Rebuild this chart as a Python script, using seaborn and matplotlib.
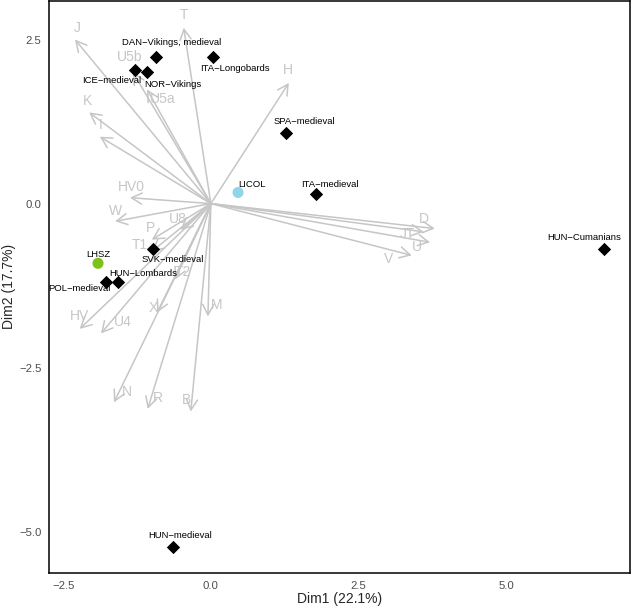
import numpy as np
import pandas as pd
import matplotlib
matplotlib.use("Agg")
import matplotlib.pyplot as plt
import seaborn as sns

# populations (individuals) - coordinates
pop_names = ['DAN\u2212Vikings, medieval', 'ITA\u2212Longobards', 'ICE\u2212medieval', 'NOR\u2212Vikings',
             'SPA\u2212medieval', 'ITA\u2212medieval', 'HUN\u2212Cumanians', 'SVK\u2212medieval',
             'HUN\u2212Lombards', 'POL\u2212medieval', 'HUN\u2212medieval']
pop_x = [-0.93, 0.03, -1.29, -1.08, 1.27, 1.78, 6.65, -0.98, -1.57, -1.78, -0.64]
pop_y = [2.24, 2.23, 2.03, 2.00, 1.08, 0.14, -0.69, -0.69, -1.19, -1.19, -5.23]
pop_lab_x = [-0.66, 0.41, -1.68, -0.64, 1.59, 2.01, 6.31, -0.64, -1.15, -2.22, -0.52]
pop_lab_y = [2.45, 2.06, 1.88, 1.81, 1.25, 0.29, -0.52, -0.85, -1.07, -1.30, -5.06]

# the two study groups
grp_names = ['LICOL', 'LHSZ']
grp_x = [0.46, -1.91]
grp_y = [0.17, -0.91]
grp_lab_x = [0.69, -1.91]
grp_lab_y = [0.29, -0.78]

# haplogroup loadings (arrow tips) and their label positions
hg_names = ['J', 'T', 'H', 'U5b', 'U5a', 'K', 'I', 'HV0', 'W', 'P', 'U8', 'T1', 'T2', 'X',
            'M', 'HV', 'U4', 'N', 'R', 'B', 'D', 'JT', 'U', 'V']
hg_x = [-2.30, -0.46, 1.32, -1.32, -1.08, -2.06, -1.88, -1.37, -1.62, -1.00, -0.51, -1.00,
        -0.61, -0.91, -0.05, -2.22, -1.86, -1.64, -1.07, -0.34, 3.79, 3.60, 3.71, 3.40]
hg_y = [2.50, 2.68, 1.84, 2.00, 1.74, 1.39, 1.02, 0.09, -0.27, -0.55, -0.40, -0.73,
        -1.16, -1.66, -1.72, -1.91, -1.98, -3.03, -3.13, -3.17, -0.38, -0.43, -0.59, -0.79]
hg_lab_x = [-2.27, -0.46, 1.30, -1.37, -0.81, -2.08, -1.86, -1.35, -1.61, -1.03, -0.56, -1.20,
            -0.47, -0.98, 0.10, -2.22, -1.49, -1.42, -0.90, -0.42, 3.60, 3.33, 3.49, 3.01]
hg_lab_y = [2.68, 2.88, 2.03, 2.24, 1.59, 1.57, 1.20, 0.26, -0.11, -0.37, -0.24, -0.63,
            -1.04, -1.59, -1.55, -1.72, -1.81, -2.87, -2.96, -3.00, -0.23, -0.47, -0.66, -0.84]

pops = pd.DataFrame({'name': pop_names, 'x': pop_x, 'y': pop_y})
grps = pd.DataFrame({'name': grp_names, 'x': grp_x, 'y': grp_y})

sns.set_style("white")
plt.rcParams['font.family'] = ['Liberation Sans', 'DejaVu Sans']

fig = plt.figure(figsize=(6.32, 6.08), dpi=100)
ax = fig.add_axes([0.0775, 0.0576, 0.919, 0.941])

arrow_col = '#C6C6C6'
for name, x, y, lx, ly in zip(hg_names, hg_x, hg_y, hg_lab_x, hg_lab_y):
    ax.annotate('', xy=(x, y), xytext=(0, 0),
                arrowprops=dict(arrowstyle='->,head_length=0.75,head_width=0.4',
                                color=arrow_col, lw=1.1, shrinkA=0, shrinkB=0),
                zorder=1)
    ax.text(lx, ly, name, color=arrow_col, fontsize=10, ha='center', va='center', zorder=1)

sns.scatterplot(data=pops, x='x', y='y', marker='D', color='black', s=46,
                edgecolor='black', linewidth=0, ax=ax, zorder=3)
sns.scatterplot(data=grps, x='x', y='y', hue='name', palette={'LICOL': '#8FD6EA', 'LHSZ': '#7DC21B'},
                s=64, edgecolor='none', linewidth=0, legend=False, ax=ax, zorder=3)

for name, lx, ly in zip(pop_names, pop_lab_x, pop_lab_y):
    ax.text(lx, ly, name, fontsize=6.8, ha='center', va='center', color='black', zorder=4)
for name, lx, ly in zip(grp_names, grp_lab_x, grp_lab_y):
    ax.text(lx, ly, name, fontsize=6.8, ha='center', va='center', color='black', zorder=4)

ax.set_xlim(-2.74, 7.09)
ax.set_ylim(-5.63, 3.09)
ax.set_xticks([-2.5, 0.0, 2.5, 5.0])
ax.set_xticklabels(['\u22122.5', '0.0', '2.5', '5.0'])
ax.set_yticks([2.5, 0.0, -2.5, -5.0])
ax.set_yticklabels(['2.5', '0.0', '\u22122.5', '\u22125.0'])
ax.tick_params(axis='both', length=3.5, width=1, color='black', labelsize=8.2, labelcolor='#4D4D4D', pad=2)
for sp in ax.spines.values():
    sp.set_visible(True)
    sp.set_color('black')
    sp.set_linewidth(1.1)
ax.set_xlabel('Dim1 (22.1%)', fontsize=10, labelpad=1)
ax.set_ylabel('Dim2 (17.7%)', fontsize=10, labelpad=2)

fig.savefig('out.png', dpi=100)
